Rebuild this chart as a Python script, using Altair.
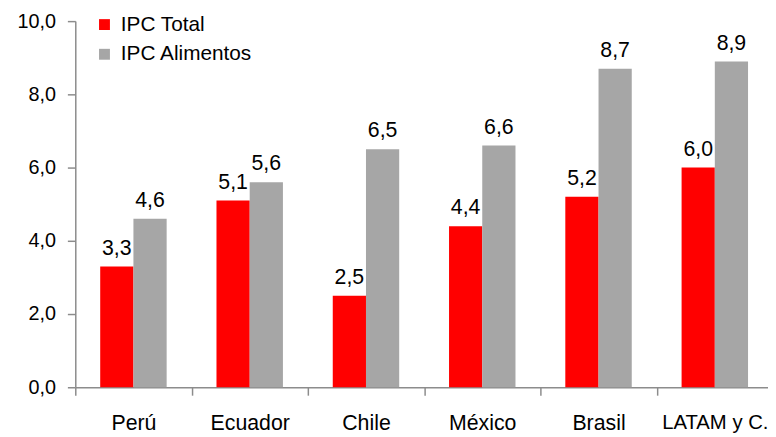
import altair as alt
import pandas as pd

categories = ["Perú", "Ecuador", "Chile", "México", "Brasil", "LATAM y C."]
series_names = ["IPC Total", "IPC Alimentos"]
ipc_total = [3.3, 5.1, 2.5, 4.4, 5.2, 6.0]
ipc_alimentos = [4.6, 5.6, 6.5, 6.6, 8.7, 8.9]
y_ticks = [0, 2, 4, 6, 8, 10]
colors = ["#FF0000", "#A6A6A6"]

rows = []
for c, t, a in zip(categories, ipc_total, ipc_alimentos):
    rows.append({"pais": c, "serie": series_names[0], "valor": t})
    rows.append({"pais": c, "serie": series_names[1], "valor": a})
df = pd.DataFrame(rows)

x_enc = alt.X(
    "pais:N",
    sort=categories,
    scale=alt.Scale(range=[0, 705], paddingInner=0, paddingOuter=0),
    axis=alt.Axis(
        title=None,
        labelAngle=0,
        labelFontSize={"condition": {"test": f"datum.value == '{categories[-1]}'", "value": 20.5}, "value": 21.5},
        labelColor="#000000",
        labelPadding=18,
        tickBand="extent",
        tickSize=8,
        tickColor="#8c8c8c",
        domainColor="#8c8c8c",
        domainWidth=1.5,
        tickWidth=1.5,
    ),
)
xoff_enc = alt.XOffset(
    "serie:N", sort=series_names,
    scale=alt.Scale(paddingInner=0, paddingOuter=0.75),
)
y_enc = alt.Y(
    "valor:Q",
    scale=alt.Scale(domain=[0, 10], nice=False),
    axis=alt.Axis(
        title=None,
        values=y_ticks,
        labelExpr="replace(format(datum.value, '.1f'), '.', ',')",
        labelFontSize=20,
        labelColor="#000000",
        labelPadding=12,
        tickSize=8,
        tickColor="#8c8c8c",
        domainColor="#8c8c8c",
        domainWidth=1.5,
        tickWidth=1.5,
        grid=False,
    ),
)

bars = alt.Chart(df).mark_bar().encode(
    x=x_enc,
    xOffset=xoff_enc,
    y=y_enc,
    color=alt.Color(
        "serie:N",
        sort=series_names,
        scale=alt.Scale(domain=series_names, range=colors),
        legend=alt.Legend(
            title=None,
            orient="none",
            legendX=19,
            legendY=-7,
            symbolType="square",
            symbolSize=121,
            symbolStrokeWidth=0,
            labelFontSize=21,
            labelColor="#000000",
            labelOffset=6,
            rowPadding=8,
            padding=0,
        ),
    ),
)

labels = alt.Chart(df).transform_calculate(
    etiqueta="replace(format(datum.valor, '.1f'), '.', ',')"
).mark_text(fontSize=21.5, color="#000000", baseline="alphabetic", dy=-12).encode(
    x=alt.X("pais:N", sort=categories),
    xOffset=alt.XOffset("serie:N", sort=series_names),
    y="valor:Q",
    text="etiqueta:N",
)

chart = alt.layer(bars, labels).properties(
    width=700,
    height=370,
    autosize=alt.AutoSizeParams(type="none"),
    padding={"left": 68, "top": 11, "right": 0, "bottom": 48},
).configure(
    font="Liberation Sans",
).configure_view(
    stroke=None,
)

chart.save("out.html", embed_options={"renderer": "svg", "actions": False})
